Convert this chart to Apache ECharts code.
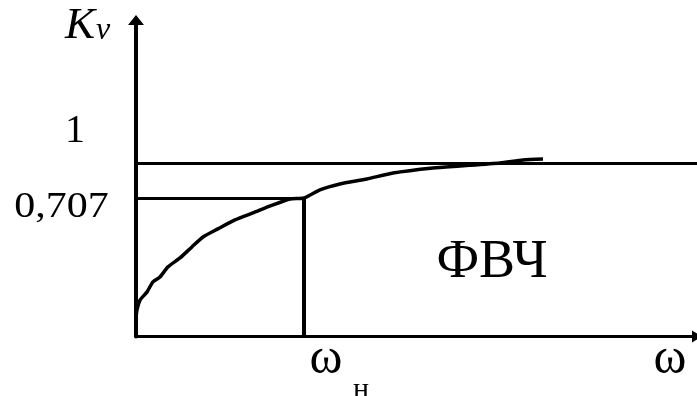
<!DOCTYPE html>
<html>
<head>
<meta charset="utf-8">
<script src="https://cdn.jsdelivr.net/npm/echarts@6/dist/echarts.min.js"></script>
<style>
  html, body { margin: 0; padding: 0; background: #fff; }
  #chart { width: 697px; height: 396px; }
</style>
</head>
<body>
<div id="chart"></div>
<script>
// High-pass filter (ФВЧ) gain response Kv versus frequency ω (ω in units of ωн)
const freq = [0, 0.006, 0.024, 0.065, 0.101, 0.143, 0.19, 0.262, 0.333, 0.399, 0.488, 0.589, 0.696, 0.815, 0.917, 1.0, 1.095, 1.214, 1.375, 1.53, 1.768, 1.929, 2.167, 2.304, 2.423];
const gain = [0.216, 0.234, 0.258, 0.279, 0.309, 0.324, 0.358, 0.391, 0.436, 0.481, 0.521, 0.569, 0.610, 0.660, 0.700, 0.707, 0.766, 0.812, 0.853, 0.905, 0.951, 0.970, 0.999, 1.029, 1.039];
const passLevel = 1;        // unity gain
const cutoffLevel = 0.707;  // -3 dB level
const cutoffFreq = 1;       // ωн
const gainMin = 0.18, gainMax = 4.1;
const freqMax = 3.34;

const SERIF = "'Liberation Serif', 'DejaVu Serif', serif";
const black = '#000';

const chart = echarts.init(document.getElementById('chart'), null, { renderer: 'canvas' });

function txt(text, x, y, font, extra) {
  return Object.assign({
    type: 'text',
    x: x, y: y,
    style: {
      text: text,
      font: font + ' ' + SERIF,
      fill: black,
      align: 'center',
      verticalAlign: 'middle'
    }
  }, extra || {});
}

chart.setOption({
  animation: false,
  backgroundColor: '#fff',
  grid: { left: 136, right: 0, top: 20, bottom: 59.5 },
  xAxis: {
    type: 'value',
    min: 0,
    max: freqMax,
    axisLine: {
      onZero: false,
      lineStyle: { color: black, width: 3 },
      symbol: ['none', 'triangle'],
      symbolSize: [12, 10]
    },
    axisTick: { show: false },
    axisLabel: { show: false },
    splitLine: { show: false }
  },
  yAxis: {
    type: 'log',
    logBase: 10,
    min: gainMin,
    max: gainMax,
    axisLine: {
      show: true,
      onZero: false,
      lineStyle: { color: black, width: 4 },
      symbol: ['none', 'triangle'],
      symbolSize: [16, 10]
    },
    axisTick: { show: false },
    axisLabel: { show: false },
    splitLine: { show: false },
    minorSplitLine: { show: false }
  },
  series: [{
    type: 'line',
    data: freq.map((f, i) => [f, gain[i]]),
    smooth: 0.2,
    showSymbol: false,
    lineStyle: { color: black, width: 3.5 },
    markLine: {
      silent: true,
      symbol: 'none',
      label: { show: false },
      lineStyle: { color: black, width: 3, type: 'solid' },
      data: [
        { yAxis: passLevel },
        [{ coord: [0, cutoffLevel] }, { coord: [cutoffFreq, cutoffLevel] }],
        [{ coord: [cutoffFreq, gainMin] }, { coord: [cutoffFreq, cutoffLevel], lineStyle: { width: 4 } }]
      ]
    }
  }],
  graphic: [
    txt('K', 80, 26, 'italic 45px'),
    txt('v', 103, 31, 'italic 32px'),
    txt('1', 75, 131, '40px'),
    txt('0,707', 61.5, 208, '35px', { scaleX: 1.2, originX: 0, originY: 0 }),
    txt('ФВЧ', 492, 263, '54px'),
    txt('ω', 326, 360, '50px'),
    txt('н', 361, 390, '30px'),
    txt('ω', 670, 360, '50px')
  ]
});
</script>
</body>
</html>
